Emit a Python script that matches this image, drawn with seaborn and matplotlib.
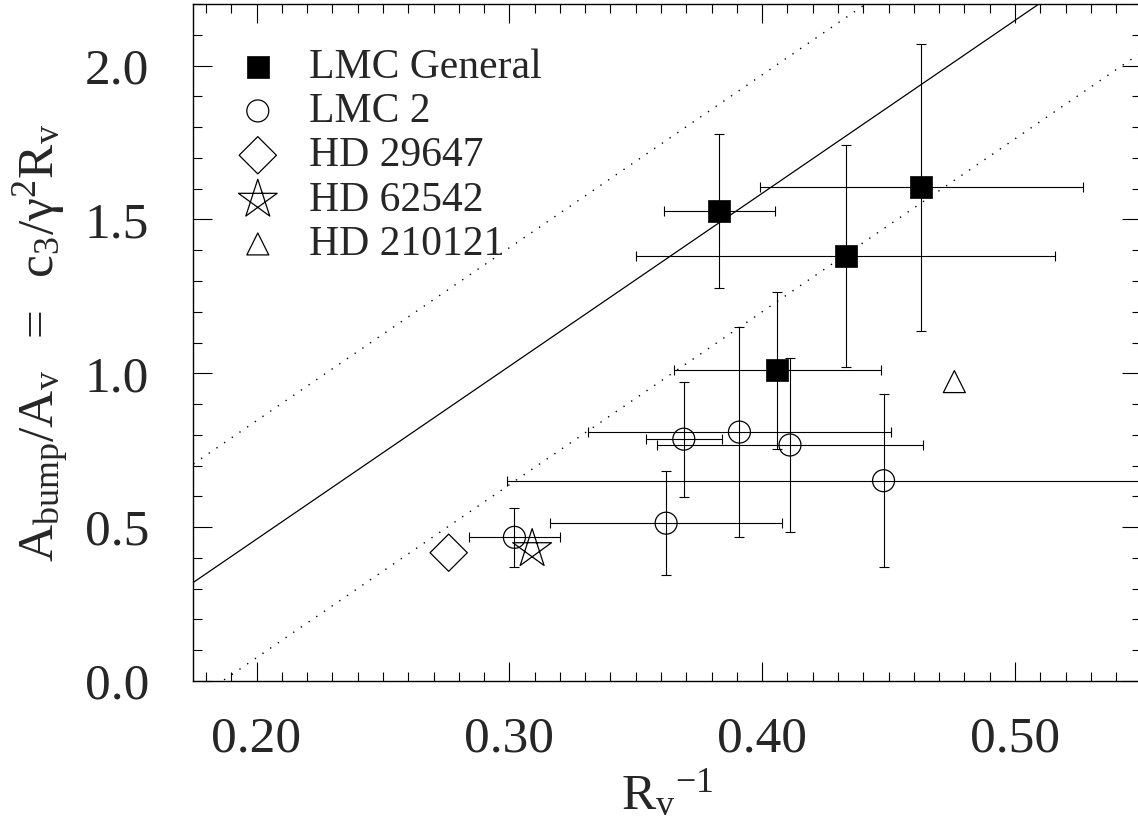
import numpy as np
import matplotlib
matplotlib.use("Agg")
import matplotlib.pyplot as plt
from matplotlib.path import Path
from matplotlib.ticker import MultipleLocator, FormatStrFormatter
import seaborn as sns

# LMC General sightlines (filled squares)
lmc_gen_x = [0.383, 0.433, 0.463, 0.406]
lmc_gen_y = [1.527, 1.381, 1.604, 1.010]
lmc_gen_xerr = [0.022, 0.083, 0.064, 0.041]
lmc_gen_yerr = [0.250, 0.362, 0.467, 0.255]

# LMC 2 sightlines (open circles)
lmc2_x = [0.369, 0.391, 0.411, 0.448, 0.362, 0.302]
lmc2_y = [0.786, 0.809, 0.767, 0.651, 0.513, 0.467]
lmc2_xerr = [0.015, 0.060, 0.0525, 0.149, 0.046, 0.018]
lmc2_yerr = [0.187, 0.341, 0.284, 0.282, 0.170, 0.095]

# Galactic comparison stars
hd29647_x, hd29647_y = [0.276], [0.417]
hd62542_x, hd62542_y = [0.309], [0.429]
hd210121_x, hd210121_y = [0.476], [0.973]

# Linear relation with its spread
slope = 5.62
intercept = -0.663
spread = 0.385

x_range = [0.175, 0.55]
y_range = [0.0, 2.2]

sns.set_theme(style="ticks")
plt.rcParams["font.family"] = ["Liberation Serif", "DejaVu Serif"]
plt.rcParams["mathtext.fontset"] = "custom"
plt.rcParams["mathtext.rm"] = "Liberation Serif"
plt.rcParams["mathtext.it"] = "Liberation Serif:italic"
plt.rcParams["mathtext.bf"] = "Liberation Serif:bold"

# five-stroke pentagram marker
ang = np.deg2rad(90 + 72 * np.array([0, 2, 4, 1, 3, 0]))
pentagram = Path(np.column_stack([np.cos(ang), np.sin(ang)]),
                 [Path.MOVETO] + [Path.LINETO] * 4 + [Path.CLOSEPOLY])

fig = plt.figure(figsize=(11.38, 8.23), dpi=100)
ax = fig.add_axes([0.1699, 0.1725, 0.8331, 0.8226])

# model relation: solid centre line, dotted bounds
xl = np.array(x_range)
ax.plot(xl, slope * xl + intercept, color="black", lw=0.9, zorder=1)
for off in (spread, -spread):
    ax.plot(xl, slope * xl + intercept + off, color="black", lw=1.0,
            linestyle=(0, (1, 5.7)), zorder=1)

ebkw = dict(fmt="none", ecolor="black", elinewidth=0.8, capsize=3.5,
            capthick=0.8, zorder=2)
ax.errorbar(lmc_gen_x, lmc_gen_y, xerr=lmc_gen_xerr, yerr=lmc_gen_yerr, **ebkw)
ax.errorbar(lmc2_x, lmc2_y, xerr=lmc2_xerr, yerr=lmc2_yerr, **ebkw)

sns.scatterplot(x=lmc_gen_x, y=lmc_gen_y, marker="s", s=266, color="black",
                edgecolor="black", linewidth=0.5, label="LMC General", ax=ax, zorder=3)
sns.scatterplot(x=lmc2_x, y=lmc2_y, marker="o", s=250, facecolor="none",
                edgecolor="black", linewidth=0.9, label="LMC 2", ax=ax, zorder=3)
sns.scatterplot(x=hd29647_x, y=hd29647_y, marker="D", s=360, facecolor="none",
                edgecolor="black", linewidth=0.9, label="HD 29647", ax=ax, zorder=3)
sns.scatterplot(x=hd62542_x, y=hd62542_y, marker=pentagram, s=860, facecolor="none",
                edgecolor="black", linewidth=0.9, label="HD 62542", ax=ax, zorder=3)
sns.scatterplot(x=hd210121_x, y=hd210121_y, marker="^", s=250, facecolor="none",
                edgecolor="black", linewidth=0.9, label="HD 210121", ax=ax, zorder=3)

ax.set_xlim(*x_range)
ax.set_ylim(*y_range)

ax.xaxis.set_major_locator(MultipleLocator(0.1))
ax.xaxis.set_minor_locator(MultipleLocator(0.01))
ax.yaxis.set_major_locator(MultipleLocator(0.5))
ax.yaxis.set_minor_locator(MultipleLocator(0.1))
ax.xaxis.set_major_formatter(FormatStrFormatter("%.2f"))
ax.yaxis.set_major_formatter(FormatStrFormatter("%.1f"))

ax.tick_params(which="both", direction="in", top=True, right=True,
               color="black", width=0.8)
ax.tick_params(which="major", length=13.7)
ax.tick_params(which="minor", length=6.7)
ax.tick_params(axis="x", which="major", labelsize=37, pad=25)
ax.tick_params(axis="y", which="major", labelsize=37, pad=32)
for sp in ax.spines.values():
    sp.set_linewidth(1.0)
    sp.set_color("black")

ax.set_xlabel(r"${\mathrm{R}_\mathrm{v}}^{-1}$", fontsize=37)
ax.set_ylabel(r"$\mathrm{A_{bump}/A_{v}\ \ =\ \ c_{3}/\gamma^{2}R_{v}}$", fontsize=37)
ax.xaxis.set_label_coords(0.5, -0.13)
ax.yaxis.set_label_coords(-0.128, 0.5)

leg = ax.legend(loc="upper left", bbox_to_anchor=(0.046, 0.935), frameon=False,
                fontsize=30, borderpad=0, borderaxespad=0, labelspacing=0.14,
                handlelength=1.0, handletextpad=0.72, scatterpoints=1)

fig.savefig("out.png", dpi=100)
